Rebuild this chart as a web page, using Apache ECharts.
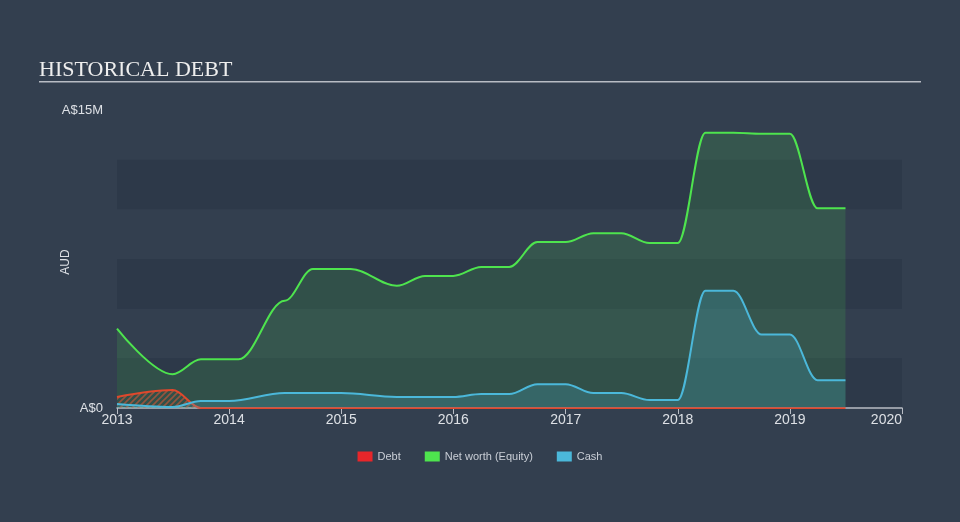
<!DOCTYPE html>
<html>
<head>
<meta charset="utf-8">
<script src="https://cdn.jsdelivr.net/npm/echarts@6/dist/echarts.min.js"></script>
<style>
html,body{margin:0;padding:0;background:#333f4f;}
#c{width:960px;height:522px;}
</style>
</head>
<body>
<div id="c"></div>
<script>
// Values in A$ millions
const equityDates = ['2013-01-01','2013-07-01','2013-10-01','2014-02-01','2014-07-01','2014-10-01','2015-02-01','2015-07-01','2015-10-01','2016-01-01','2016-04-01','2016-07-01','2016-10-01','2017-01-01','2017-04-01','2017-07-01','2017-10-01','2018-01-01','2018-04-01','2018-07-01','2018-10-01','2019-01-01','2019-04-01','2019-07-01'];
const equityValues = [4.0,1.7,2.45,2.45,5.4,7.0,7.0,6.15,6.65,6.65,7.1,7.1,8.35,8.35,8.8,8.8,8.3,8.3,13.85,13.85,13.8,13.8,10.05,10.05];

const cashDates = ['2013-01-01','2013-07-01','2013-10-01','2014-01-01','2014-07-01','2015-01-01','2015-07-01','2016-01-01','2016-04-01','2016-07-01','2016-10-01','2017-01-01','2017-04-01','2017-07-01','2017-10-01','2018-01-01','2018-04-01','2018-07-01','2018-10-01','2019-01-01','2019-04-01','2019-07-01'];
const cashValues = [0.2,0.05,0.35,0.35,0.75,0.75,0.55,0.55,0.7,0.7,1.2,1.2,0.75,0.75,0.4,0.4,5.9,5.9,3.7,3.7,1.4,1.4];

const debtDates = ['2013-01-01','2013-07-01','2013-10-01','2014-07-01','2015-07-01','2016-07-01','2017-07-01','2018-07-01','2019-07-01'];
const debtValues = [0.55,0.9,0,0,0,0,0,0,0];

const yearTicks = ['2013','2014','2015','2016','2017','2018','2019','2020'];

const M = 1e6;
function pairs(d, v){ return d.map((x,i)=>[x, v[i]*M]); }

const pc = document.createElement('canvas');
pc.width = 6; pc.height = 6;
const g = pc.getContext('2d');
g.strokeStyle = 'rgba(225,90,55,0.8)';
g.lineWidth = 1.6;
g.beginPath();
g.moveTo(0,6); g.lineTo(6,0);
g.moveTo(-3,3); g.lineTo(3,-3);
g.moveTo(3,9); g.lineTo(9,3);
g.stroke();

const chart = echarts.init(document.getElementById('c'), null, {renderer:'canvas'});
chart.setOption({
  backgroundColor: '#333f4f',
  animation: false,
  title: {
    text: 'HISTORICAL DEBT', left: 34, top: 54,
    textStyle: {fontFamily: 'Liberation Serif', fontWeight: 'normal', fontSize: 22, color: '#eeeeee'}
  },
  graphic: [{
    type: 'rect', shape: {x: 39, y: 81, width: 882, height: 1.5},
    style: {fill: '#b8bcc4'}
  }, {
    type: 'text', x: 66, y: 262, rotation: Math.PI / 2,
    style: {text: 'AUD', fill: '#dde0e5', font: '12px "Liberation Sans"', align: 'center', verticalAlign: 'middle'}
  }],
  legend: {
    bottom: 55, left: 'center', itemWidth: 15, itemHeight: 10, itemGap: 24,
    icon: 'rect',
    data: ['Debt','Net worth (Equity)','Cash'],
    textStyle: {color: '#c9ced6', fontSize: 11, fontFamily: 'Liberation Sans'}
  },
  grid: {left: 117, right: 58, top: 110, bottom: 114},
  xAxis: {
    type: 'time',
    min: yearTicks[0] + '-01-01', max: yearTicks[yearTicks.length-1] + '-01-01',
    interval: 365.25*24*3600*1000,
    axisLine: {lineStyle: {color: '#b8bcc4', width: 1.5}},
    axisTick: {show: true, length: 6, lineStyle: {color: '#b8bcc4'}},
    axisLabel: {color: '#dde0e5', fontSize: 14, fontFamily: 'Liberation Sans', margin: 5,
      showMaxLabel: true, showMinLabel: true, alignMaxLabel: 'right',
      formatter: function(v){ return String(new Date(v + 12*3600*1000).getFullYear()); }},
    splitLine: {show: false}
  },
  yAxis: {
    type: 'value', min: 0, max: 15*M, interval: 2.5*M,
    axisLine: {show: false}, axisTick: {show: false},
    splitLine: {show: false},
    splitArea: {show: true, areaStyle: {color: ['#2d3949', 'rgba(0,0,0,0)']}},
    axisLabel: {color: '#dde0e5', fontSize: 13, fontFamily: 'Liberation Sans', margin: 14,
      formatter: function(v){ if (v === 0) return 'A$0'; if (v === 15*M) return 'A$15M'; return ''; }}
  },
  series: [
    {
      name: 'Net worth (Equity)', type: 'line', data: pairs(equityDates, equityValues),
      smooth: 0.35, smoothMonotone: 'x', showSymbol: false, color: '#4ee44e',
      lineStyle: {color: '#4ee44e', width: 2},
      areaStyle: {color: 'rgba(78,228,78,0.2)'}, z: 2
    },
    {
      name: 'Debt', type: 'line', data: pairs(debtDates, debtValues),
      smooth: 0.35, smoothMonotone: 'x', showSymbol: false, color: '#e8262a',
      lineStyle: {color: '#e0482c', width: 2},
      areaStyle: {color: {image: pc, repeat: 'repeat'}}, z: 3
    },
    {
      name: 'Cash', type: 'line', data: pairs(cashDates, cashValues),
      smooth: 0.35, smoothMonotone: 'x', showSymbol: false, color: '#4bb8da',
      lineStyle: {color: '#4bb8da', width: 2},
      areaStyle: {color: 'rgba(75,184,218,0.3)'}, z: 4
    }
  ]
});
</script>
</body>
</html>
